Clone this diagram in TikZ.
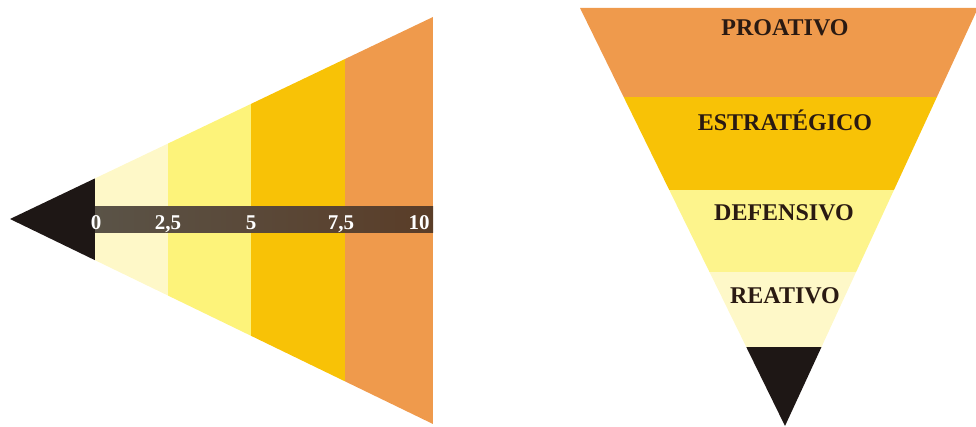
\documentclass[tikz,border=0pt]{standalone}
\usepackage{fontspec}
\setmainfont{Liberation Serif}
\definecolor{cream}{HTML}{FEF8C8}
\definecolor{lyellow}{HTML}{FDF37A}
\definecolor{dyellow}{HTML}{FDF48C}
\definecolor{gold}{HTML}{F8C206}
\definecolor{orng}{HTML}{EF9A4C}
\definecolor{blk}{HTML}{1E1715}
\definecolor{barl}{HTML}{5A5347}
\definecolor{barr}{HTML}{5A3D28}
\definecolor{txt}{HTML}{2A1A12}
\tikzset{
  numlbl/.style={text=white,font=\fontsize{21}{21}\selectfont\bfseries,inner sep=0pt,anchor=base},
  lvllbl/.style={text=txt,font=\fontsize{24}{24}\selectfont\bfseries,inner sep=0pt}
}
\begin{document}
\begin{tikzpicture}[x=1pt,y=-1pt]
\useasboundingbox (0,0) rectangle (976,427);
% left triangle
\begin{scope}
\clip (10,219) -- (433,17) -- (433,424) -- cycle;
\fill[blk] (0,0) rectangle (95,427);
\fill[cream] (95,0) rectangle (168,427);
\fill[lyellow] (168,0) rectangle (251,427);
\fill[gold] (251,0) rectangle (345,427);
\fill[orng] (345,0) rectangle (433,427);
\end{scope}
\shade[left color=barl,right color=barr] (95,207) rectangle (433,233);
\node[numlbl] (n0) at (96,230) {0};
\node[numlbl] (n1) at (168,230) {2,5};
\node[numlbl] (n2) at (251,230) {5};
\node[numlbl] (n3) at (341,230) {7,5};
\node[numlbl] (n4) at (419,230) {10};
% right inverted triangle
\begin{scope}
\clip (580,8) -- (978,8) -- (785,426) -- cycle;
\fill[orng] (560,0) rectangle (976,97);
\fill[gold] (560,97) rectangle (976,190);
\fill[dyellow] (560,190) rectangle (976,272);
\fill[cream] (560,272) rectangle (976,347);
\fill[blk] (560,347) rectangle (976,427);
\end{scope}
\node[lvllbl] (pro) at (785,28) {PROATIVO};
\node[lvllbl] (est) at (785,120) {ESTRATÉGICO};
\node[lvllbl] (def) at (784,213) {DEFENSIVO};
\node[lvllbl] (rea) at (785,296) {REATIVO};
\end{tikzpicture}
\end{document}
